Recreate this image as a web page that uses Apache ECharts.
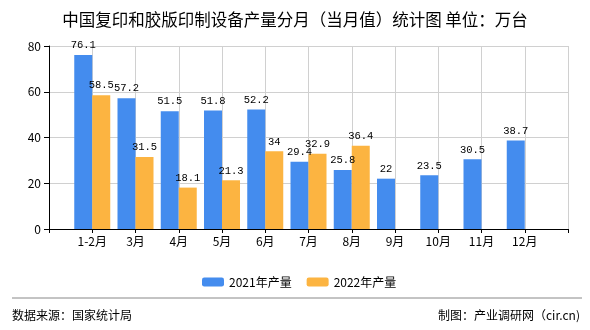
<!DOCTYPE html>
<html>
<head>
<meta charset="utf-8">
<script src="https://cdn.jsdelivr.net/npm/echarts@6/dist/echarts.min.js"></script>
<style>
html,body{margin:0;padding:0;background:#fff;}
#chart{width:590px;height:330px;}
</style>
</head>
<body>
<div id="chart"></div>
<script>
// Months (padded with empty slots at both ends of the axis)
var months = ['', '1-2月', '3月', '4月', '5月', '6月', '7月', '8月', '9月', '10月', '11月', '12月', ''];
var prod2021 = [null, 76.1, 57.2, 51.5, 51.8, 52.2, 29.4, 25.8, 22, 23.5, 30.5, 38.7, null];
var prod2022 = [null, 58.5, 31.5, 18.1, 21.3, 34, 32.9, 36.4, null, null, null, null, null];
var yTicks = [0, 20, 40, 60, 80];

var chart = echarts.init(document.getElementById('chart'), null, {renderer: 'canvas'});
var cjk = '"Noto Sans CJK SC", sans-serif';
var valueLabel = {
  show: true,
  position: 'top',
  distance: 4,
  color: '#000',
  fontFamily: '"Liberation Mono", monospace',
  fontSize: 10.5
};

chart.setOption({
  animation: false,
  title: {
    text: '中国复印和胶版印制设备产量分月（当月值）统计图 单位：万台',
    left: 'center',
    top: 6,
    textStyle: {fontFamily: cjk, fontSize: 16.5, fontWeight: 'normal', color: '#000'}
  },
  legend: {
    left: 197,
    top: 271,
    itemWidth: 22,
    itemHeight: 9,
    itemGap: 15,
    textStyle: {fontFamily: cjk, fontSize: 12, color: '#000'},
    data: ['2021年产量', '2022年产量']
  },
  grid: {left: 49, right: 22, top: 46, bottom: 101},
  xAxis: {
    type: 'category',
    data: months,
    boundaryGap: false,
    axisLine: {lineStyle: {color: '#000'}},
    axisTick: {length: 4, lineStyle: {color: '#000'}},
    axisLabel: {fontFamily: cjk, fontSize: 12, color: '#000', margin: 6, interval: 0},
    splitLine: {show: true, lineStyle: {color: '#d0d0d0'}}
  },
  yAxis: {
    type: 'value',
    min: yTicks[0],
    max: yTicks[yTicks.length - 1],
    interval: 20,
    axisLine: {show: true, lineStyle: {color: '#000'}},
    axisTick: {show: true, length: 5, lineStyle: {color: '#000'}},
    axisLabel: {fontFamily: cjk, fontSize: 12, color: '#000', margin: 8},
    splitLine: {lineStyle: {color: '#d0d0d0'}}
  },
  series: [
    {
      name: '2021年产量',
      type: 'bar',
      data: prod2021,
      barWidth: 18,
      barGap: '0%',
      itemStyle: {color: '#448CEE'},
      label: valueLabel
    },
    {
      name: '2022年产量',
      type: 'bar',
      data: prod2022,
      barWidth: 18,
      barGap: '0%',
      itemStyle: {color: '#FCB441'},
      label: valueLabel
    }
  ],
  graphic: [
    {type: 'line', shape: {x1: 12, y1: 298, x2: 582, y2: 298}, style: {stroke: '#888', lineWidth: 1}},
    {type: 'text', left: 12, top: 309, style: {text: '数据来源：国家统计局', font: '12px "Noto Sans CJK SC"', fill: '#000'}},
    {type: 'text', right: 10, top: 309, style: {text: '制图：产业调研网（cir.cn)', font: '12px "Noto Sans CJK SC"', fill: '#000'}}
  ]
});
</script>
</body>
</html>
